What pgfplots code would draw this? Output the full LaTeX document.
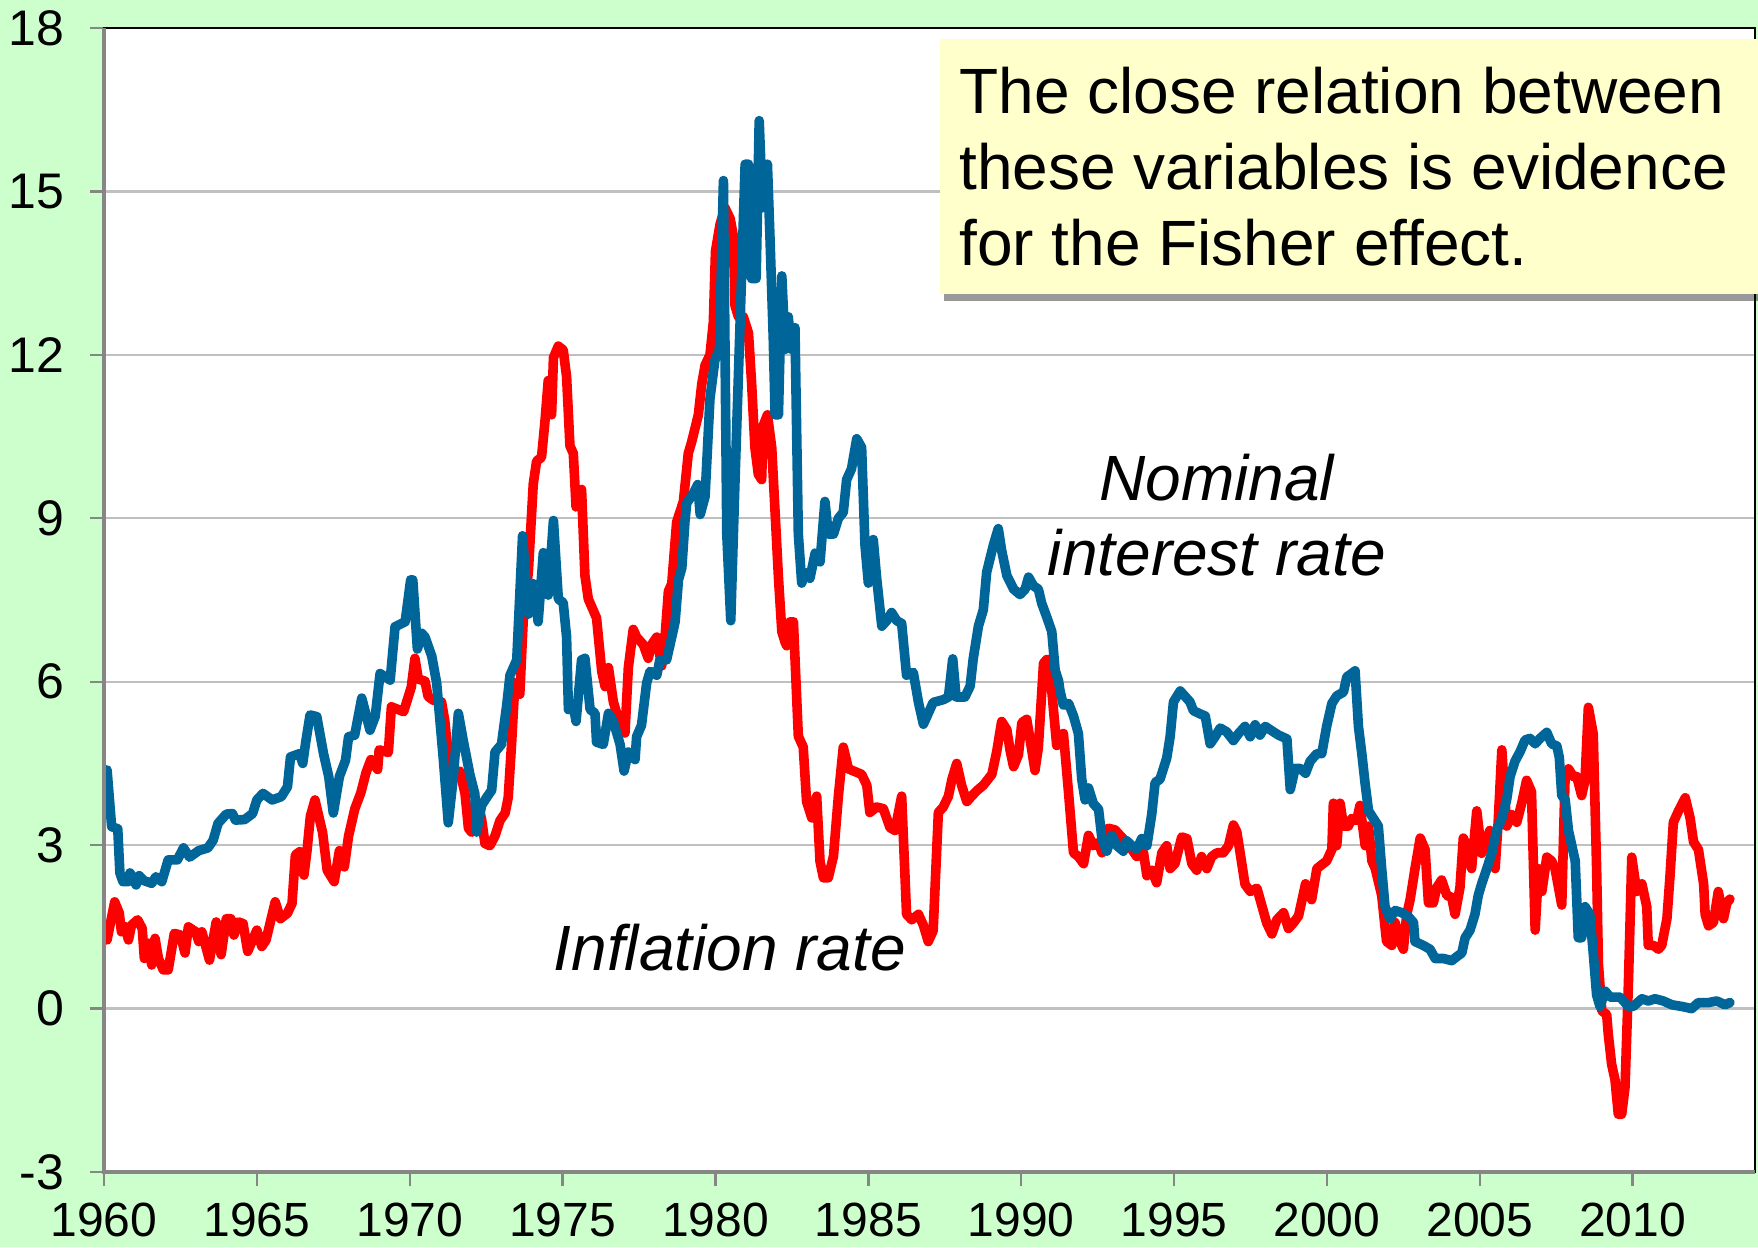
\documentclass[border=0pt]{standalone}
\usepackage{fontspec}
\setmainfont{Liberation Sans}
\usepackage{pgfplots}
\pgfplotsset{compat=1.18}
\usetikzlibrary{shadows}
\definecolor{bggreen}{HTML}{CCFFCC}
\definecolor{nomblue}{HTML}{00669A}
\definecolor{infred}{HTML}{FF0000}
\definecolor{boxyellow}{HTML}{FFFFCC}
\definecolor{gridgray}{HTML}{C0C0C0}
\definecolor{axgray}{HTML}{868686}

\pgfplotstableread{
year val
1960.10 4.38
1960.25 3.34
1960.45 3.30
1960.52 2.49
1960.62 2.33
1960.80 2.33
1960.85 2.49
1961.05 2.27
1961.15 2.44
1961.30 2.35
1961.56 2.30
1961.70 2.42
1961.89 2.33
1962.10 2.73
1962.40 2.73
1962.60 2.95
1962.80 2.78
1963.10 2.90
1963.40 2.95
1963.57 3.09
1963.73 3.40
1964.00 3.57
1964.20 3.58
1964.30 3.46
1964.60 3.47
1964.86 3.58
1965.00 3.83
1965.20 3.95
1965.50 3.83
1965.80 3.89
1966.00 4.07
1966.10 4.62
1966.40 4.68
1966.50 4.50
1966.60 4.90
1966.74 5.39
1966.96 5.36
1967.18 4.68
1967.35 4.26
1967.50 3.59
1967.70 4.26
1967.90 4.56
1968.00 4.99
1968.20 5.02
1968.43 5.70
1968.70 5.11
1968.87 5.36
1969.03 6.15
1969.36 6.03
1969.52 7.01
1969.85 7.10
1970.03 7.87
1970.10 7.87
1970.25 6.60
1970.39 6.89
1970.50 6.82
1970.72 6.47
1970.88 5.98
1971.10 4.57
1971.26 3.41
1971.42 4.22
1971.59 5.42
1971.75 4.92
1971.97 4.29
1972.13 3.94
1972.19 3.24
1972.35 3.73
1972.51 3.87
1972.68 4.01
1972.79 4.71
1973.00 4.85
1973.17 5.56
1973.28 6.12
1973.50 6.40
1973.69 8.68
1973.88 7.24
1974.04 7.80
1974.20 7.10
1974.37 8.37
1974.53 7.59
1974.70 8.96
1974.86 7.52
1975.02 7.45
1975.13 6.82
1975.19 5.49
1975.35 5.56
1975.44 5.27
1975.62 6.40
1975.73 6.43
1975.90 5.49
1976.06 5.42
1976.11 4.89
1976.33 4.85
1976.50 5.42
1976.66 5.27
1976.88 4.85
1977.01 4.36
1977.15 4.71
1977.37 4.57
1977.42 4.99
1977.58 5.20
1977.75 5.98
1977.86 6.19
1978.08 6.12
1978.18 6.40
1978.40 6.40
1978.57 6.82
1978.68 7.10
1978.79 7.87
1978.90 8.09
1979.00 8.93
1979.06 9.28
1979.27 9.45
1979.42 9.62
1979.50 9.07
1979.66 9.40
1979.82 11.20
1979.98 11.90
1980.13 12.10
1980.26 15.20
1980.37 8.71
1980.50 7.12
1980.64 9.71
1980.80 12.50
1980.97 15.50
1981.08 15.50
1981.18 13.40
1981.33 13.40
1981.43 16.30
1981.54 14.70
1981.70 15.50
1981.78 14.20
1981.89 12.30
1981.95 10.90
1982.06 10.90
1982.17 13.45
1982.28 12.10
1982.38 12.70
1982.49 12.10
1982.60 12.50
1982.71 8.71
1982.82 7.81
1982.93 8.00
1983.09 7.90
1983.26 8.36
1983.42 8.20
1983.58 9.31
1983.69 8.71
1983.86 8.71
1984.02 9.00
1984.18 9.11
1984.29 9.71
1984.45 9.91
1984.62 10.46
1984.78 10.30
1984.89 8.51
1985.00 7.81
1985.11 8.41
1985.16 8.61
1985.27 7.91
1985.44 7.02
1985.60 7.12
1985.76 7.27
1985.93 7.12
1986.09 7.07
1986.25 6.12
1986.47 6.17
1986.64 5.62
1986.80 5.22
1986.96 5.42
1987.12 5.62
1987.45 5.67
1987.62 5.72
1987.76 6.42
1987.87 5.72
1988.16 5.72
1988.33 5.92
1988.43 6.42
1988.60 7.02
1988.76 7.32
1988.87 8.01
1989.09 8.51
1989.25 8.81
1989.36 8.41
1989.53 7.95
1989.75 7.70
1989.96 7.60
1990.13 7.70
1990.24 7.92
1990.40 7.76
1990.56 7.70
1990.67 7.44
1990.84 7.18
1991.00 6.92
1991.11 6.21
1991.22 6.02
1991.27 5.83
1991.38 5.57
1991.55 5.60
1991.71 5.37
1991.87 5.05
1991.98 4.21
1992.09 3.83
1992.20 4.05
1992.36 3.76
1992.53 3.66
1992.64 3.12
1992.80 2.89
1992.96 3.18
1993.13 2.99
1993.34 2.89
1993.45 3.08
1993.62 2.99
1993.78 2.92
1993.94 3.12
1994.11 2.99
1994.27 3.57
1994.38 4.15
1994.54 4.21
1994.76 4.60
1994.87 4.99
1994.98 5.63
1995.20 5.83
1995.36 5.73
1995.52 5.63
1995.63 5.47
1995.85 5.41
1996.02 5.37
1996.18 4.86
1996.34 4.99
1996.51 5.15
1996.72 5.08
1996.94 4.92
1997.11 5.05
1997.32 5.18
1997.49 4.99
1997.65 5.21
1997.81 5.02
1997.98 5.18
1998.25 5.08
1998.42 5.02
1998.69 4.95
1998.80 4.02
1998.96 4.41
1999.12 4.41
1999.30 4.32
1999.45 4.54
1999.67 4.68
1999.83 4.68
1999.99 5.18
2000.16 5.60
2000.32 5.74
2000.54 5.81
2000.65 6.09
2000.76 6.13
2000.92 6.20
2001.03 5.18
2001.14 4.68
2001.25 4.12
2001.36 3.63
2001.52 3.49
2001.68 3.35
2001.79 2.57
2001.90 1.87
2002.06 1.65
2002.23 1.80
2002.45 1.76
2002.66 1.69
2002.83 1.58
2002.88 1.23
2003.15 1.16
2003.37 1.09
2003.54 0.92
2003.81 0.92
2004.08 0.88
2004.24 0.95
2004.41 1.02
2004.52 1.30
2004.68 1.44
2004.84 1.73
2004.95 2.08
2005.06 2.29
2005.23 2.57
2005.39 2.85
2005.55 3.27
2005.72 3.49
2005.88 3.84
2005.99 4.26
2006.15 4.54
2006.32 4.72
2006.48 4.93
2006.64 4.96
2006.81 4.86
2006.97 4.96
2007.19 5.07
2007.35 4.86
2007.52 4.82
2007.60 4.61
2007.68 3.91
2007.79 3.84
2007.90 3.27
2008.01 2.99
2008.12 2.71
2008.22 1.30
2008.33 1.30
2008.44 1.87
2008.60 1.73
2008.71 1.02
2008.82 0.25
2008.93 0.04
2009.10 0.32
2009.26 0.21
2009.59 0.21
2009.86 0.04
2010.02 0.04
2010.30 0.18
2010.51 0.14
2010.73 0.18
2011.00 0.14
2011.28 0.07
2011.60 0.04
2011.93 0.00
2012.15 0.11
2012.48 0.11
2012.75 0.14
2013.02 0.07
2013.18 0.11
}\nominal

\pgfplotstableread{
year val
1960.10 1.26
1960.35 1.96
1960.50 1.75
1960.57 1.41
1960.70 1.50
1960.80 1.26
1960.90 1.53
1961.10 1.63
1961.25 1.47
1961.32 0.92
1961.45 1.20
1961.56 0.80
1961.67 1.29
1961.78 0.92
1961.94 0.71
1962.10 0.71
1962.30 1.38
1962.50 1.35
1962.65 1.02
1962.76 1.50
1963.00 1.41
1963.10 1.23
1963.20 1.41
1963.45 0.89
1963.67 1.59
1963.83 0.99
1964.00 1.65
1964.15 1.65
1964.25 1.35
1964.40 1.59
1964.55 1.56
1964.70 1.05
1965.00 1.44
1965.16 1.14
1965.30 1.26
1965.60 1.96
1965.77 1.65
1966.00 1.75
1966.15 1.93
1966.26 2.82
1966.40 2.88
1966.54 2.45
1966.64 2.90
1966.75 3.53
1966.90 3.83
1967.15 3.23
1967.30 2.54
1967.53 2.33
1967.70 2.90
1967.86 2.60
1968.00 3.17
1968.20 3.66
1968.40 3.96
1968.57 4.33
1968.73 4.57
1968.95 4.39
1969.00 4.75
1969.30 4.70
1969.40 5.54
1969.80 5.45
1969.95 5.72
1970.05 5.90
1970.17 6.43
1970.28 6.05
1970.50 6.01
1970.60 5.73
1970.77 5.66
1971.04 5.63
1971.15 5.27
1971.32 4.29
1971.64 4.36
1971.81 3.94
1971.92 3.31
1972.02 3.24
1972.24 3.73
1972.35 3.48
1972.46 3.03
1972.62 2.99
1972.79 3.17
1972.95 3.45
1973.12 3.59
1973.22 3.87
1973.33 4.85
1973.44 5.98
1973.60 5.77
1973.71 7.10
1973.88 8.02
1974.04 9.63
1974.15 10.05
1974.31 10.12
1974.42 10.76
1974.53 11.53
1974.64 10.90
1974.70 11.95
1974.86 12.16
1975.02 12.09
1975.13 11.60
1975.24 10.33
1975.35 10.19
1975.44 9.21
1975.62 9.53
1975.73 7.95
1975.84 7.52
1976.11 7.17
1976.28 6.19
1976.39 5.91
1976.50 6.26
1976.66 5.63
1976.77 5.42
1976.93 5.13
1977.04 5.06
1977.15 6.26
1977.31 6.96
1977.42 6.82
1977.64 6.68
1977.80 6.43
1977.91 6.68
1978.08 6.82
1978.24 6.29
1978.35 6.82
1978.46 7.66
1978.57 7.80
1978.73 8.93
1978.95 9.31
1979.11 10.19
1979.22 10.40
1979.44 10.90
1979.55 11.46
1979.66 11.81
1979.82 12.00
1979.93 12.60
1980.00 13.90
1980.15 14.40
1980.31 14.70
1980.48 14.50
1980.58 14.20
1980.64 12.90
1980.75 12.70
1980.91 12.70
1981.08 12.40
1981.18 11.50
1981.29 10.30
1981.40 9.81
1981.51 9.71
1981.56 10.70
1981.70 10.90
1981.84 10.30
1981.95 9.11
1982.06 7.91
1982.17 6.92
1982.28 6.72
1982.33 6.66
1982.44 7.10
1982.55 7.10
1982.71 5.00
1982.87 4.80
1982.98 3.80
1983.15 3.50
1983.31 3.90
1983.42 2.70
1983.53 2.40
1983.69 2.40
1983.86 2.80
1984.02 3.90
1984.18 4.80
1984.35 4.40
1984.78 4.30
1984.95 4.10
1985.05 3.60
1985.27 3.70
1985.49 3.67
1985.71 3.32
1985.87 3.27
1986.09 3.90
1986.25 1.73
1986.42 1.63
1986.64 1.73
1986.80 1.53
1986.96 1.23
1987.12 1.43
1987.29 3.60
1987.45 3.70
1987.62 3.90
1987.73 4.20
1987.89 4.50
1988.05 4.10
1988.22 3.80
1988.38 3.90
1988.55 4.00
1988.76 4.10
1989.04 4.30
1989.20 4.72
1989.36 5.27
1989.53 5.12
1989.64 4.73
1989.75 4.44
1989.91 4.66
1990.02 5.25
1990.18 5.31
1990.35 4.73
1990.45 4.37
1990.56 4.79
1990.73 6.34
1990.84 6.41
1991.00 5.83
1991.16 4.83
1991.38 5.05
1991.55 3.95
1991.71 2.86
1991.87 2.79
1992.04 2.66
1992.20 3.18
1992.36 2.99
1992.53 3.05
1992.64 2.86
1992.85 3.31
1993.07 3.28
1993.23 3.18
1993.40 3.08
1993.62 2.92
1993.78 2.79
1994.00 2.86
1994.11 2.44
1994.27 2.54
1994.43 2.31
1994.60 2.86
1994.76 2.99
1994.87 2.57
1995.03 2.66
1995.25 3.15
1995.42 3.12
1995.58 2.66
1995.74 2.54
1995.90 2.79
1996.07 2.57
1996.23 2.79
1996.40 2.86
1996.61 2.86
1996.78 2.99
1996.94 3.37
1997.05 3.25
1997.16 2.86
1997.32 2.28
1997.49 2.15
1997.71 2.21
1997.87 1.89
1998.03 1.57
1998.20 1.37
1998.36 1.63
1998.58 1.76
1998.74 1.47
1998.90 1.57
1999.07 1.70
1999.30 2.29
1999.50 2.00
1999.67 2.57
1999.83 2.64
1999.99 2.71
2000.16 2.92
2000.21 3.77
2000.32 2.99
2000.43 3.77
2000.54 3.35
2000.70 3.35
2000.81 3.49
2000.97 3.45
2001.08 3.73
2001.25 2.99
2001.36 3.35
2001.47 2.71
2001.58 2.57
2001.79 2.08
2001.95 1.23
2002.12 1.16
2002.23 1.58
2002.39 1.23
2002.50 1.09
2002.61 1.73
2002.72 2.00
2002.88 2.57
2003.05 3.13
2003.21 2.92
2003.32 1.94
2003.48 1.94
2003.59 2.22
2003.75 2.36
2003.92 2.08
2004.08 2.04
2004.19 1.73
2004.35 2.22
2004.46 3.13
2004.57 2.99
2004.73 2.57
2004.90 3.63
2005.06 2.85
2005.23 3.13
2005.33 3.27
2005.50 2.57
2005.60 3.42
2005.72 4.75
2005.88 3.35
2006.04 3.56
2006.21 3.42
2006.37 3.77
2006.53 4.19
2006.69 3.98
2006.81 1.44
2006.92 2.57
2007.03 2.15
2007.19 2.78
2007.35 2.71
2007.46 2.57
2007.68 1.90
2007.79 4.26
2007.90 4.40
2008.06 4.26
2008.17 4.26
2008.33 3.91
2008.44 4.19
2008.55 5.53
2008.71 5.04
2008.82 2.57
2008.88 0.81
2008.99 -0.04
2009.15 -0.11
2009.20 -0.46
2009.31 -1.02
2009.42 -1.30
2009.53 -1.94
2009.64 -1.94
2009.75 -1.44
2009.86 0.46
2009.97 2.78
2010.13 2.15
2010.30 2.29
2010.46 1.87
2010.51 1.16
2010.68 1.16
2010.84 1.09
2010.95 1.16
2011.12 1.65
2011.22 2.43
2011.33 3.42
2011.50 3.63
2011.72 3.87
2011.88 3.49
2011.99 3.06
2012.15 2.92
2012.32 2.29
2012.37 1.73
2012.48 1.52
2012.64 1.58
2012.80 2.15
2012.97 1.65
2013.08 1.94
2013.18 2.01
}\inflation

\begin{document}
\begin{tikzpicture}
\fill[bggreen] (-26pt,-18.75pt) rectangle (413.5pt,293pt);
\begin{axis}[
  at={(0,0)}, anchor=south west,
  scale only axis, width=412.75pt, height=286pt,
  xmin=1960, xmax=2014, ymin=-3, ymax=18,
  xtick={1960,1965,...,2010}, ytick={-3,0,...,18},
  tick align=outside, tick pos=left,
  major tick length=3.5pt,
  tick style={axgray, line width=0.6pt},
  ymajorgrids, grid style={gridgray, line width=0.6pt},
  axis line style={black, line width=0.5pt},
  axis background/.style={fill=white},
  clip=false,
  /pgf/number format/.cd, 1000 sep={}, assume math mode=true,
  /pgfplots/.cd,
  yticklabel style={font=\fontsize{12.5}{14}\selectfont, text=black, xshift=-3pt},
  xticklabel style={font=\fontsize{12}{14}\selectfont, text=black, yshift=-0.8pt},
  every axis plot/.append style={line width=2.4pt, line join=round, line cap=round},
]
\addplot[infred, no markers] table[x=year, y=val] {\inflation};
\addplot[nomblue, no markers] table[x=year, y=val] {\nominal};
\draw[axgray, line width=0.8pt] (rel axis cs:0,1) -- (rel axis cs:0,0) -- (rel axis cs:1,0);
\node[font=\fontsize{16}{18.8}\selectfont\itshape, align=center] at (axis cs:1996.4,9.06) {Nominal\\interest rate};
\node[font=\fontsize{16}{18.8}\selectfont\itshape] at (axis cs:1980.47,1.12) {Inflation rate};
\fill[boxyellow, drop shadow={shadow xshift=1pt, shadow yshift=-1.8pt, fill=black, opacity=0.4}] (axis cs:1987.34,17.8) rectangle (axis cs:2014.1,13.12);
\node[anchor=north west, align=left, inner sep=0pt, font=\fontsize{16}{19}\selectfont] at (axis cs:1987.95,17.29) {The close relation between\\these variables is evidence\\for the Fisher effect.};
\end{axis}
\pgfresetboundingbox
\path[use as bounding box] (-26pt,-18.75pt) rectangle (413.5pt,293pt);
\end{tikzpicture}
\end{document}
